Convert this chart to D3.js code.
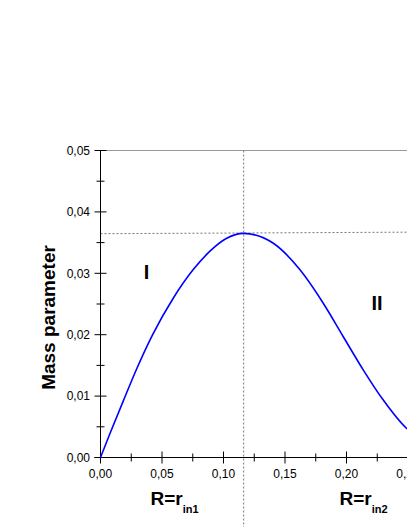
<!DOCTYPE html>
<html><head><meta charset="utf-8">
<script src="https://cdn.jsdelivr.net/npm/d3@7"></script>
<style>body{margin:0;background:#fff}svg{display:block}text{font-family:"Liberation Sans",Arial,sans-serif}</style>
</head><body>
<svg id="c" width="407" height="527"></svg>
<script>
const xs = [0.0, 0.0077, 0.0183, 0.0291, 0.0421, 0.0590, 0.0754, 0.0890, 0.1026, 0.1162, 0.1405, 0.1622, 0.1811, 0.1974, 0.2137, 0.2299, 0.2489, 0.2520];
const ys = [0.0, 0.0039, 0.0091, 0.0143, 0.0199, 0.0259, 0.0306, 0.0336, 0.0357, 0.0365, 0.0349, 0.03056, 0.02512, 0.01967, 0.01424, 0.00935, 0.00473, 0.0042];
const xTicks = [0, 0.05, 0.10, 0.15, 0.20, 0.25];
const yTicks = [0, 0.01, 0.02, 0.03, 0.04, 0.05];
const peakX = 0.1164;
const hLine = [0.03645, 0.0367];
const fmt = d => d3.format(".2f")(d).replace(".", ",");

const svg = d3.select("#c");
const x = d3.scaleLinear().domain([0, 0.25]).range([100.5, 408]);
const y = d3.scaleLinear().domain([0, 0.05]).range([457.5, 150.5]);

// top frame
svg.append("line").attr("x1", x(0)).attr("x2", 420).attr("y1", y(0.05)).attr("y2", y(0.05))
  .attr("stroke", "#999").attr("stroke-width", 1.2);

// dashed guides
svg.append("line").attr("x1", x(peakX)).attr("x2", x(peakX)).attr("y1", y(0.05)).attr("y2", 527)
  .attr("stroke", "#777").attr("stroke-width", 1).attr("stroke-dasharray", "2,2");
svg.append("line").attr("x1", x(0)).attr("x2", x(0.25)).attr("y1", y(hLine[0])).attr("y2", y(hLine[1]))
  .attr("stroke", "#777").attr("stroke-width", 1).attr("stroke-dasharray", "2,2");

// y axis
const ya = svg.append("g");
ya.append("line").attr("x1", x(0)).attr("x2", x(0)).attr("y1", y(0.05)).attr("y2", y(0)).attr("stroke", "#000");
d3.range(0, 0.0501, 0.005).forEach((v, i) => {
  const major = i % 2 === 0;
  ya.append("line").attr("x1", x(0) - (major ? 6 : 4)).attr("x2", x(0) + (major ? 6 : 4))
    .attr("y1", y(v)).attr("y2", y(v)).attr("stroke", "#000");
});
yTicks.forEach(v => {
  ya.append("text").attr("x", 90).attr("y", y(v)).attr("dy", "0.35em").attr("text-anchor", "end")
    .attr("font-size", 12).text(fmt(v));
});

// x axis
const xa = svg.append("g");
xa.append("line").attr("x1", x(0) - 6).attr("x2", 420).attr("y1", y(0)).attr("y2", y(0)).attr("stroke", "#000");
d3.range(0, 0.2501, 0.025).forEach((v, i) => {
  const major = i % 2 === 0;
  xa.append("line").attr("x1", x(v)).attr("x2", x(v))
    .attr("y1", y(0) - (major ? 6 : 4)).attr("y2", y(0) + (major ? 6 : 4)).attr("stroke", "#000");
});
xTicks.forEach(v => {
  xa.append("text").attr("x", x(v)).attr("y", 478).attr("text-anchor", "middle")
    .attr("font-size", 12).text(fmt(v));
});

// curve
const line = d3.line().x((d, i) => x(xs[i])).y((d, i) => y(ys[i])).curve(d3.curveMonotoneX);
svg.append("path").datum(xs).attr("d", line).attr("fill", "none").attr("stroke", "#0000ff").attr("stroke-width", 1.6);

// y label
svg.append("text").attr("transform", "translate(55,317.5) rotate(-90)").attr("text-anchor", "middle")
  .attr("font-size", 19).attr("font-weight", "bold").text("Mass parameter");

// region labels
svg.append("text").attr("x", 146.5).attr("y", 278.5).attr("text-anchor", "middle")
  .attr("font-size", 20).attr("font-weight", "bold").text("I");
svg.append("text").attr("x", 377).attr("y", 309.5).attr("text-anchor", "middle")
  .attr("font-size", 20).attr("font-weight", "bold").text("II");

// R labels
function rLabel(px, sub) {
  const t = svg.append("text").attr("x", px).attr("y", 505).attr("font-size", 19).attr("font-weight", "bold");
  t.append("tspan").text("R=r");
  t.append("tspan").attr("font-size", 11).attr("dy", 7.5).text(sub);
}
rLabel(150.5, "in1");
rLabel(339.5, "in2");
</script>
</body></html>
